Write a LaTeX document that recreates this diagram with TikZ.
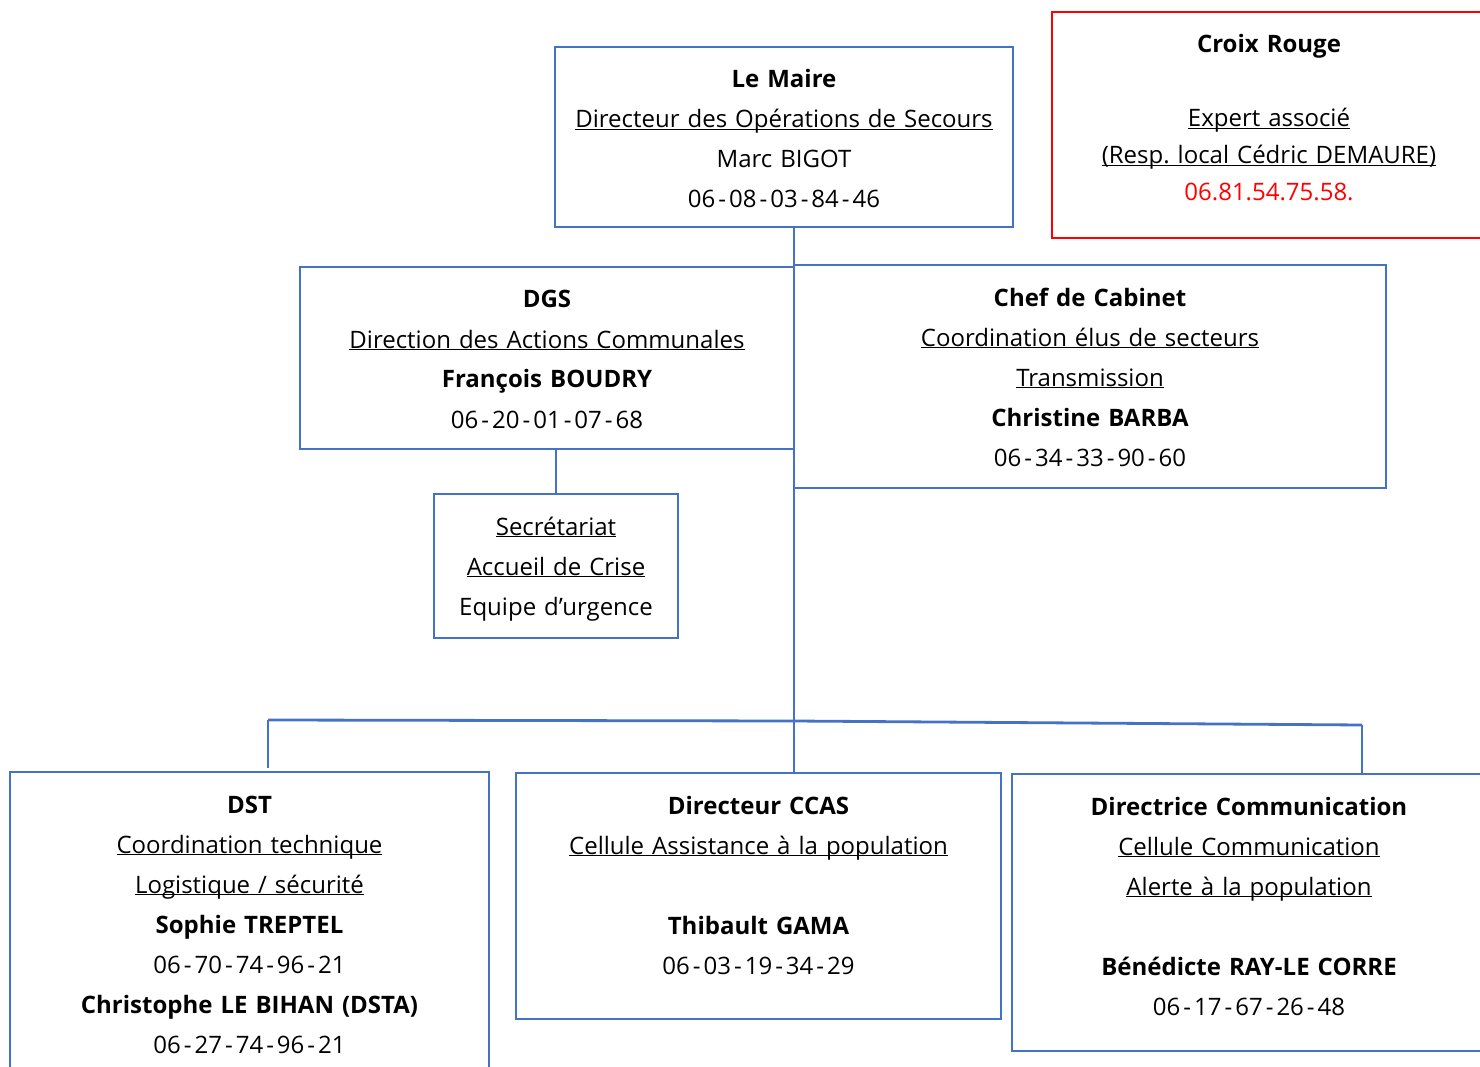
\documentclass[tikz,border=0pt]{standalone}
\usepackage{fontspec}
\setmainfont{Open Sans}
\definecolor{frame}{HTML}{4472C4}
\definecolor{alert}{HTML}{FF0000}
\newcommand\mission[1]{\underline{\smash{#1}}}
\newcommand\hy{\kern3pt-\kern3pt}
\frenchspacing

\begin{document}
\begin{tikzpicture}[x=1pt,y=-1pt,
   every node/.style={font=\fontsize{24}{40}\selectfont},
   unit/.style={draw=frame, line width=2.8pt, inner sep=0pt, outer sep=0pt},
   partner/.style={unit, draw=alert},
   txt/.style={anchor=base, align=center, text width=600pt, inner sep=0pt},
   link/.style={draw=frame, line width=2.8pt}]

\useasboundingbox (0,0) rectangle (1480,1067);
\clip (0,0) rectangle (1480,1067);

% boxes
\node[unit, minimum width=458pt, minimum height=180pt] (maire) at (784,137) {};
\node[partner, minimum width=434pt, minimum height=226pt] (croix) at (1269,125) {};
\node[unit, minimum width=494pt, minimum height=182pt] (dgs) at (547,358) {};
\node[unit, minimum width=592pt, minimum height=223pt] (cab) at (1090,376.5) {};
\node[unit, minimum width=244pt, minimum height=144pt] (secr) at (556,566) {};
\node[unit, minimum width=479pt, minimum height=300pt] (dst) at (249.5,922) {};
\node[unit, minimum width=485pt, minimum height=246pt] (ccas) at (758.5,896) {};
\node[unit, minimum width=474pt, minimum height=277pt] (dircom) at (1249,912.5) {};

% texts
\node[txt] at ([yshift=-41pt]maire.north) {\textbf{Le Maire}\\
   \mission{Directeur des Opérations de Secours}\\ Marc BIGOT\\ 06\hy08\hy03\hy84\hy46};
\node[txt, font=\fontsize{24}{37}\selectfont] at ([yshift=-41pt]croix.north) {\textbf{Croix Rouge}\\[37pt]
   \mission{Expert associé}\\ \mission{(Resp. local Cédric DEMAURE)}\\
   \textcolor{alert}{06.81.54.75.58.}};
\node[txt] at ([yshift=-41pt]dgs.north) {\textbf{DGS}\\
   \mission{Direction des Actions Communales}\\ \textbf{François BOUDRY}\\ 06\hy20\hy01\hy07\hy68};
\node[txt] at ([yshift=-41pt]cab.north) {\textbf{Chef de Cabinet}\\
   \mission{Coordination élus de secteurs}\\ \mission{Transmission}\\
   \textbf{Christine BARBA}\\ 06\hy34\hy33\hy90\hy60};
\node[txt] at ([yshift=-41pt]secr.north) {\mission{Secrétariat}\\
   \mission{Accueil de Crise}\\ Equipe d’urgence};
\node[txt] at ([yshift=-41pt]dst.north) {\textbf{DST}\\
   \mission{Coordination technique}\\ \mission{Logistique / sécurité}\\
   \textbf{Sophie TREPTEL}\\ 06\hy70\hy74\hy96\hy21\\
   \textbf{Christophe LE BIHAN (DSTA)}\\ 06\hy27\hy74\hy96\hy21};
\node[txt] at ([yshift=-41pt]ccas.north) {\textbf{Directeur CCAS}\\
   \mission{Cellule Assistance à la population}\\[40pt]
   \textbf{Thibault GAMA}\\ 06\hy03\hy19\hy34\hy29};
\node[txt] at ([yshift=-41pt]dircom.north) {\textbf{Directrice Communication}\\
   \mission{Cellule Communication}\\ \mission{Alerte à la population}\\[40pt]
   \textbf{Bénédicte RAY-LE CORRE}\\ 06\hy17\hy67\hy26\hy48};

% links
\coordinate (hub) at (794,721);
\coordinate (bus west) at (268,720);
\coordinate (bus east) at (1362,725);
\draw[link] (maire.south -| dgs.east) -- (hub);
\draw[link] (bus west) -- (hub) -- (bus east);
\draw[link] (bus west) -- ([yshift=4pt]bus west |- dst.north);
\draw[link] (hub) -- (hub |- ccas.north);
\draw[link] (bus east) -- (bus east |- dircom.north);
\draw[link] (secr.north |- dgs.south) -- (secr.north);

\end{tikzpicture}
\end{document}
